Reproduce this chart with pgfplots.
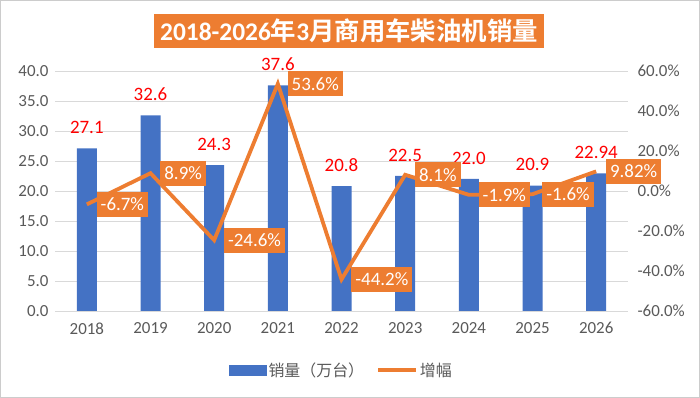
\documentclass[border=0pt]{standalone}
\usepackage{pgfplots}
\pgfplotsset{compat=1.18}
\usepackage{fontspec}
\setmainfont{Carlito}
\newfontfamily\cjk{Noto Sans CJK SC}
\newfontfamily\cjkb{Noto Sans CJK SC Bold}
\definecolor{barblue}{HTML}{4472C4}
\definecolor{lineorange}{HTML}{ED7D31}
\definecolor{tickgray}{HTML}{595959}
\definecolor{gridgray}{HTML}{D9D9D9}
\begin{document}
\begin{tikzpicture}
\useasboundingbox (0,0) rectangle (700bp,398bp);
\draw[gray!40, line width=1bp] (0.5bp,0.5bp) rectangle (699.5bp,397.5bp);
\node[fill=lineorange, text=white, inner xsep=6bp, minimum height=34bp, font=\fontsize{25.5}{25.5}\selectfont] at (349bp,367bp)
  {{\bfseries 2018-2026}{\cjkb 年}{\bfseries 3}{\cjkb 月商用车柴油机销量}};
\begin{axis}[
  at={(55bp,87bp)}, anchor=south west, scale only axis,
  width=573bp, height=240bp,
  xmin=-0.5, xmax=8.5, ymin=0, ymax=40,
  xtick={0,1,2,3,4,5,6,7,8},
  xticklabels={2018,2019,2020,2021,2022,2023,2024,2025,2026},
  ytick={0,5,...,40},
  yticklabel={\pgfmathprintnumber[fixed,fixed zerofill,precision=1]{\tick}},
  /pgf/number format/assume math mode=true,
  axis line style={draw=none},
  major tick length=0pt,
  ymajorgrids, grid style={gridgray, line width=0.9bp},
  tick label style={text=tickgray, font=\fontsize{17}{17}\selectfont},
  xticklabel style={yshift=-8bp},
  yticklabel style={xshift=-3bp},
  ybar, bar width=20bp,
  clip=false,
]
\addplot[fill=barblue, draw=none, nodes near coords, point meta=explicit symbolic,
  every node near coord/.append style={text=red, font=\fontsize{19}{19}\selectfont, yshift=11bp}]
  coordinates {(0,27.1)[27.1] (1,32.6)[32.6] (2,24.3)[24.3] (3,37.6)[37.6] (4,20.8)[20.8]
               (5,22.5)[22.5] (6,22.0)[22.0] (7,20.9)[20.9] (8,22.94)[22.94]};
\end{axis}
\begin{axis}[
  at={(55bp,87bp)}, anchor=south west, scale only axis,
  width=573bp, height=240bp,
  xmin=-0.5, xmax=8.5, ymin=-60, ymax=60,
  axis x line=none, axis y line*=right,
  ytick={-60,-40,...,60},
  yticklabel={\pgfmathprintnumber[fixed,fixed zerofill,precision=1]{\tick}\%},
  /pgf/number format/assume math mode=true,
  axis line style={draw=none},
  major tick length=0pt,
  tick label style={text=tickgray, font=\fontsize{17}{17}\selectfont},
  yticklabel style={xshift=6bp},
  clip=false,
  legend columns=2,
  legend style={at={(0.5,-0.246)}, anchor=center, draw=none, fill=none,
    font=\cjk\fontsize{16}{16}\selectfont, text=tickgray,
    /tikz/every even column/.append style={column sep=10bp}},
]
\addlegendimage{legend image code/.code={\fill[barblue] (0bp,-5bp) rectangle (37bp,5bp);}}
\addlegendentry{销量（万台）}
\addplot[lineorange, line width=3.8bp, mark=none,
  legend image code/.code={\draw[lineorange, line width=3.8bp] (0bp,0bp) -- (38bp,0bp);},
  nodes near coords, point meta=explicit symbolic,
  every node near coord/.append style={anchor=west, xshift=8bp, fill=lineorange, text=white,
    inner xsep=4bp, inner ysep=6bp, font=\fontsize{19}{19}\selectfont}]
  coordinates {(0,-6.7)[-6.7\%] (1,8.9)[8.9\%] (2,-24.6)[-24.6\%] (3,53.6)[53.6\%] (4,-44.2)[-44.2\%]
               (5,8.1)[8.1\%] (6,-1.9)[-1.9\%] (7,-1.6)[-1.6\%] (8,9.82)[9.82\%]};
\addlegendentry{增幅}
\end{axis}
\end{tikzpicture}
\end{document}
